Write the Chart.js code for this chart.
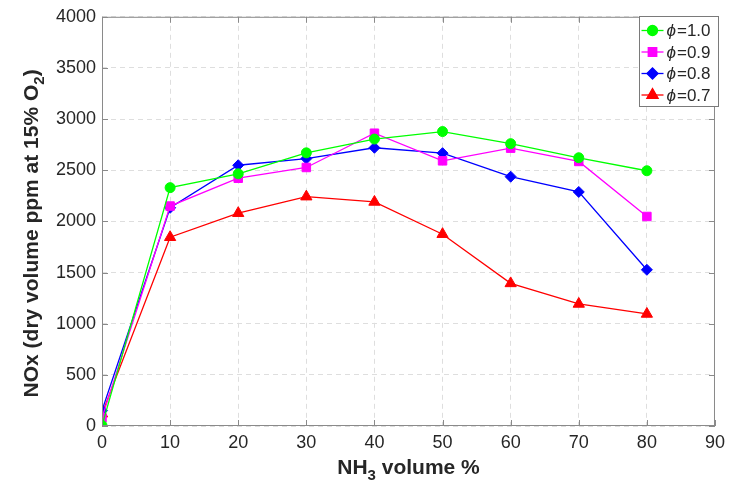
<!DOCTYPE html>
<html>
<head>
<meta charset="utf-8">
<script src="https://cdn.jsdelivr.net/npm/chart.js@4"></script>
<style>
  html, body { margin: 0; padding: 0; background: #fff; }
  #wrap { width: 731px; height: 481px; }
</style>
</head>
<body>
<div id="wrap"><canvas id="chart"></canvas></div>
<script>
// DATA
// =============================================================================
const nh3Percent = [0, 10, 20, 30, 40, 50, 60, 70, 80];

const phi10 = [5, 2330, 2465, 2670, 2805, 2878, 2760, 2622, 2495];
const phi09 = [80, 2150, 2422, 2527, 2862, 2592, 2716, 2586, 2048];
const phi08 = [150, 2133, 2549, 2614, 2720, 2667, 2437, 2288, 1527];
const phi07 = [120, 1845, 2080, 2242, 2190, 1875, 1394, 1193, 1095];

const seriesLabels = ['ϕ=1.0', 'ϕ=0.9', 'ϕ=0.8', 'ϕ=0.7'];

const xTicks = [0, 10, 20, 30, 40, 50, 60, 70, 80, 90];
const yTicks = [0, 500, 1000, 1500, 2000, 2500, 3000, 3500, 4000];

// axis titles, split so the subscript can be drawn smaller and lower
const xTitle = [{ t: 'NH' }, { t: '3', sub: true }, { t: ' volume %' }];
const yTitle = [{ t: 'NOx (dry volume ppm at 15% O' }, { t: '2', sub: true }, { t: ')' }];

// HELPERS
// =============================================================================
const toPoints = (values) => values.map((v, i) => ({ x: nh3Percent[i], y: v }));

const makeSeries = (label, values, color, style, radius) => ({
  label: label,
  data: toPoints(values),
  borderColor: color,
  backgroundColor: color,
  borderWidth: 1.3,
  pointStyle: style,
  pointRadius: radius,
  pointHoverRadius: radius,
  pointBorderWidth: 1,
  tension: 0
});

const FONT = '"Liberation Sans", Arial, Helvetica, sans-serif';
const TEXT = '#262626';
const AXIS = '#8a8a8a';
const TITLE_SIZE = 21;
const SUB_SIZE = 15;

/**
 * Draws a bold title with a subscript part, centred on (x, y) along its baseline
 */
const drawTitle = (ctx, parts, x, y, rotation) => {
  ctx.save();
  ctx.translate(x, y);
  ctx.rotate(rotation);
  ctx.fillStyle = TEXT;
  ctx.textBaseline = 'alphabetic';
  ctx.textAlign = 'left';
  const widths = parts.map(p => {
    ctx.font = 'bold ' + (p.sub ? SUB_SIZE : TITLE_SIZE) + 'px ' + FONT;
    return ctx.measureText(p.t).width;
  });
  let cx = -widths.reduce((a, b) => a + b, 0) / 2;
  parts.forEach((p, i) => {
    ctx.font = 'bold ' + (p.sub ? SUB_SIZE : TITLE_SIZE) + 'px ' + FONT;
    ctx.fillText(p.t, cx, p.sub ? 6 : 0);
    cx += widths[i];
  });
  ctx.restore();
};

/**
 * MATLAB-like frame: box on all four sides, inward tick marks,
 * axis titles and the boxed legend with a line through each marker.
 */
const framePlugin = {
  id: 'frame',
  afterDraw(chart) {
    const { ctx, chartArea: a, scales } = chart;
    ctx.save();
    ctx.strokeStyle = AXIS;
    ctx.lineWidth = 1;
    ctx.strokeRect(a.left + 0.5, a.top + 0.5, a.right - a.left - 1, a.bottom - a.top - 1);

    // inward ticks
    const tl = 6;
    ctx.beginPath();
    xTicks.forEach(t => {
      const px = Math.round(scales.x.getPixelForValue(t)) + 0.5;
      ctx.moveTo(px, a.bottom); ctx.lineTo(px, a.bottom - tl);
      ctx.moveTo(px, a.top); ctx.lineTo(px, a.top + tl);
    });
    yTicks.forEach(t => {
      const py = Math.round(scales.y.getPixelForValue(t)) + 0.5;
      ctx.moveTo(a.left, py); ctx.lineTo(a.left + tl, py);
      ctx.moveTo(a.right, py); ctx.lineTo(a.right - tl, py);
    });
    ctx.stroke();

    // axis titles
    drawTitle(ctx, xTitle, (a.left + a.right) / 2, 474, 0);
    drawTitle(ctx, yTitle, 38, (a.top + a.bottom) / 2 + 12, -Math.PI / 2);

    // legend
    const bx = 639.5, by = 16.5, bw = 79, bh = 90;
    ctx.fillStyle = '#fff';
    ctx.fillRect(bx, by, bw, bh);
    ctx.strokeStyle = '#7a7a7a';
    ctx.strokeRect(bx, by, bw, bh);
    chart.data.datasets.forEach((ds, i) => {
      const cy = by + 14 + i * 21.5;
      ctx.strokeStyle = ds.borderColor;
      ctx.lineWidth = 1.3;
      ctx.beginPath();
      ctx.moveTo(bx + 2, cy); ctx.lineTo(bx + 24, cy);
      ctx.stroke();
      Chart.helpers.drawPoint(ctx, {
        pointStyle: ds.pointStyle, radius: ds.pointRadius, borderWidth: 1
      }, bx + 13, cy);
      ctx.fillStyle = ds.borderColor;
      ctx.fill();
      ctx.fillStyle = TEXT;
      ctx.textBaseline = 'middle';
      ctx.textAlign = 'left';
      ctx.font = 'italic 17px ' + FONT;
      const sym = ds.label.charAt(0);
      ctx.fillText(sym, bx + 27, cy + 1);
      const w = ctx.measureText(sym).width;
      ctx.font = '17px ' + FONT;
      ctx.fillText(ds.label.slice(1), bx + 28 + w, cy + 1);
    });
    ctx.restore();
  }
};

const gridOpts = { color: '#dedede', drawTicks: false, lineWidth: 1 };
const tickFont = { family: FONT, size: 18 };

// CHART
// =============================================================================
const ctx = document.getElementById('chart').getContext('2d');

new Chart(ctx, {
  type: 'line',
  data: {
    datasets: [
      makeSeries(seriesLabels[0], phi10, '#00ff00', 'circle', 5),
      makeSeries(seriesLabels[1], phi09, '#ff00ff', 'rect', 6),
      makeSeries(seriesLabels[2], phi08, '#0000ff', 'rectRot', 5.5),
      makeSeries(seriesLabels[3], phi07, '#ff0000', 'triangle', 6.5)
    ]
  },
  options: {
    responsive: true,
    maintainAspectRatio: false,
    animation: false,
    layout: { padding: { left: 0, top: 16, right: 14, bottom: 0 } },
    plugins: {
      legend: { display: false },
      tooltip: { enabled: false }
    },
    scales: {
      x: {
        type: 'linear',
        min: 0,
        max: 90,
        afterBuildTicks: (s) => { s.ticks = xTicks.map(v => ({ value: v })); },
        afterFit: (s) => { s.height = 55; },
        border: { display: false, dash: [5, 4] },
        grid: gridOpts,
        ticks: { color: TEXT, padding: 6, font: tickFont, callback: (v) => String(v) }
      },
      y: {
        type: 'linear',
        min: 0,
        max: 4000,
        afterBuildTicks: (s) => { s.ticks = yTicks.map(v => ({ value: v })); },
        afterFit: (s) => { s.width = 102; },
        border: { display: false, dash: [5, 4] },
        grid: gridOpts,
        ticks: { color: TEXT, padding: 6, font: tickFont, callback: (v) => String(v) }
      }
    }
  },
  plugins: [framePlugin]
});
</script>
</body>
</html>
